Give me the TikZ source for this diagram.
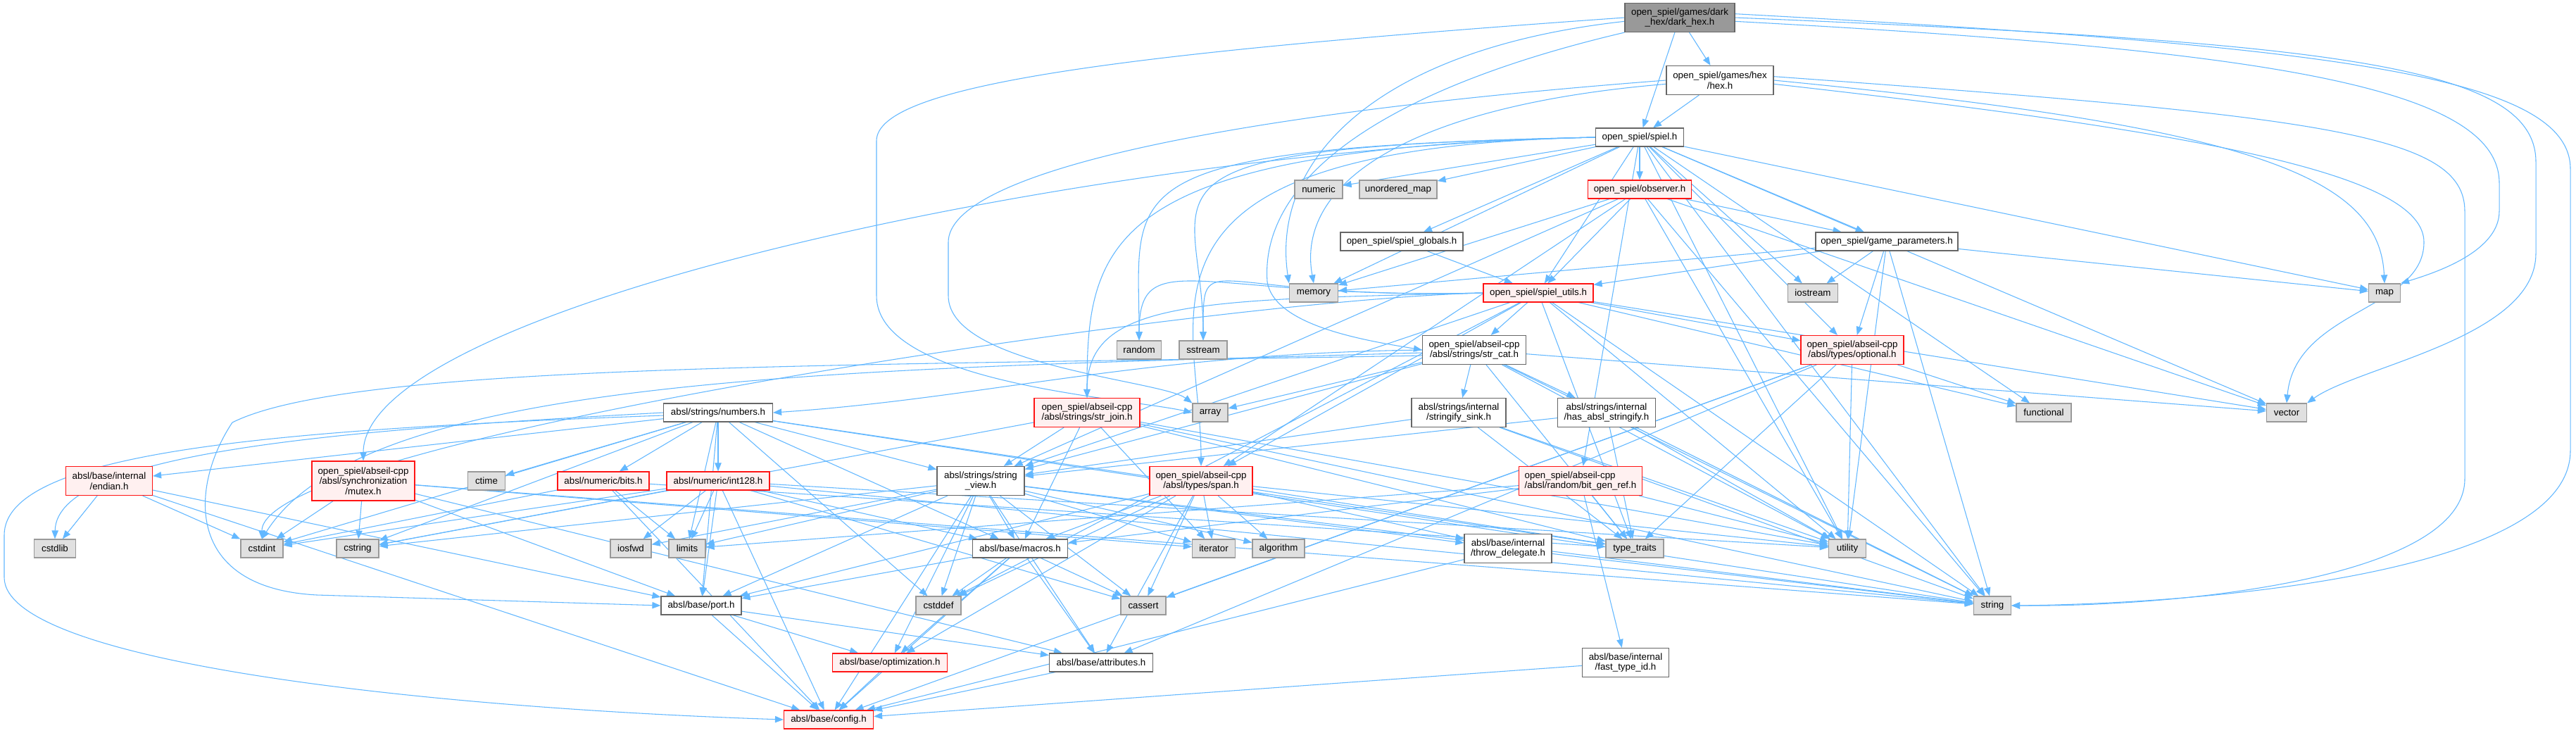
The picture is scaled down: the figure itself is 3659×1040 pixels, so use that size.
\documentclass[tikz,border=0pt]{standalone}
\usepackage{fontspec}
\setmainfont{Liberation Sans}
\usetikzlibrary{arrows.meta,backgrounds}

\definecolor{edgeblue}{RGB}{99,184,255}
\definecolor{sysfill}{RGB}{224,224,224}
\definecolor{sysline}{RGB}{153,153,153}
\definecolor{truncfill}{RGB}{255,240,240}
\definecolor{truncline}{RGB}{255,20,20}
\definecolor{rootfill}{RGB}{153,153,153}
\definecolor{boxline}{RGB}{102,102,102}

\tikzset{
  hdr/.style={draw=boxline,fill=white,line width=0.9pt,align=center,inner sep=1pt,
    font=\fontsize{10}{11}\selectfont,minimum height=19.5pt},
  boxw/.style={minimum width=#1*0.75pt},
  twoline/.style={minimum height=30.75pt},
  threeline/.style={minimum height=42pt},
  rootfile/.style={hdr,fill=rootfill},
  sysfile/.style={hdr,draw=sysline,fill=sysfill},
  trunc/.style={hdr,draw=truncline,fill=truncfill},
  dep/.style={draw=edgeblue,line width=0.8pt,-{Triangle[length=9pt,width=7pt]}}
}

\begin{document}
\begin{tikzpicture}[x=0.75pt,y=-0.75pt]
\useasboundingbox (0,0) rectangle (3659,1040);

% game headers
\node[rootfile,boxw=156,twoline] (dh) at (2386,25) {open\_spiel/games/dark\\\_hex/dark\_hex.h};
\node[hdr,boxw=152,twoline] (hex) at (2443,114) {open\_spiel/games/hex\\/hex.h};
\node[hdr,boxw=125] (spiel) at (2329,195) {open\_spiel/spiel.h};

% open_spiel core
\node[sysfile,boxw=68] (numeric) at (1873,269) {numeric};
\node[sysfile,boxw=110] (umap) at (1986,269) {unordered\_map};
\node[trunc,boxw=147] (observer) at (2329,269) {open\_spiel/observer.h};
\node[hdr,boxw=174] (globals) at (1991,343) {open\_spiel/spiel\_globals.h};
\node[hdr,boxw=202] (gparams) at (2680,343) {open\_spiel/game\_parameters.h};
\node[sysfile,boxw=69] (memory) at (1866,416) {memory};
\node[trunc,boxw=156] (utils) at (2185,416) {open\_spiel/spiel\_utils.h};
\node[sysfile,boxw=71] (iostream) at (2575,416) {iostream};
\node[sysfile,boxw=45] (map) at (3387,416) {map};
\node[sysfile,boxw=63] (random) at (1618,497) {random};
\node[sysfile,boxw=68] (sstream) at (1709,497) {sstream};
\node[hdr,boxw=147,twoline] (strcat) at (2094,497) {open\_spiel/abseil-cpp\\/absl/strings/str\_cat.h};
\node[trunc,boxw=146,twoline] (optional) at (2631,497) {open\_spiel/abseil-cpp\\/absl/types/optional.h};

% abseil strings
\node[hdr,boxw=155] (numbers) at (1020,586) {absl/strings/numbers.h};
\node[trunc,boxw=150,twoline] (strjoin) at (1544,586) {open\_spiel/abseil-cpp\\/absl/strings/str\_join.h};
\node[sysfile,boxw=50] (array) at (1719,586) {array};
\node[hdr,boxw=134,twoline] (sink) at (2072,586) {absl/strings/internal\\/stringify\_sink.h};
\node[hdr,boxw=139,twoline] (hasstr) at (2282,586) {absl/strings/internal\\/has\_absl\_stringify.h};
\node[sysfile,boxw=78] (functional) at (2903,586) {functional};
\node[sysfile,boxw=57] (vector) at (3248,586) {vector};

\node[trunc,boxw=123,twoline] (endian) at (155,683) {absl/base/internal\\/endian.h};
\node[trunc,boxw=146,threeline] (mutex) at (516,683) {open\_spiel/abseil-cpp\\/absl/synchronization\\/mutex.h};
\node[sysfile,boxw=53] (ctime) at (691,683) {ctime};
\node[trunc,boxw=130] (bits) at (857,683) {absl/numeric/bits.h};
\node[trunc,boxw=146] (int128) at (1020,683) {absl/numeric/int128.h};
\node[hdr,boxw=124,twoline] (strview) at (1393,683) {absl/strings/string\\\_view.h};
\node[trunc,boxw=146,twoline] (span) at (1706,683) {open\_spiel/abseil-cpp\\/absl/types/span.h};
\node[trunc,boxw=175,twoline,align=left] (bitgen) at (2245,683) {open\_spiel/abseil-cpp\\/absl/random/bit\_gen\_ref.h};

% std headers and absl/base
\node[sysfile,boxw=59] (cstdlib) at (78,779) {cstdlib};
\node[sysfile,boxw=60] (cstdint) at (372,779) {cstdint};
\node[sysfile,boxw=60] (cstring) at (508,779) {cstring};
\node[sysfile,boxw=58] (iosfwd) at (896,779) {iosfwd};
\node[sysfile,boxw=52] (limits) at (976,779) {limits};
\node[hdr,boxw=135] (macros) at (1449,779) {absl/base/macros.h};
\node[sysfile,boxw=61] (iterator) at (1724,779) {iterator};
\node[sysfile,boxw=74] (algorithm) at (1816,779) {algorithm};
\node[hdr,boxw=124,twoline] (throwdel) at (2142,779) {absl/base/internal\\/throw\_delegate.h};
\node[sysfile,boxw=82] (typetraits) at (2322,779) {type\_traits};
\node[sysfile,boxw=53] (utility) at (2624,779) {utility};

\node[hdr,boxw=114] (port) at (996,860) {absl/base/port.h};
\node[sysfile,boxw=64] (cstddef) at (1333,860) {cstddef};
\node[sysfile,boxw=64] (cassert) at (1624,860) {cassert};
\node[sysfile,boxw=53] (string) at (2830,860) {string};
\node[trunc,boxw=163] (optim) at (1264,941) {absl/base/optimization.h};
\node[hdr,boxw=147] (attrs) at (1564,941) {absl/base/attributes.h};
\node[hdr,boxw=123,twoline] (fasttid) at (2309,941) {absl/base/internal\\/fast\_type\_id.h};
\node[trunc,boxw=127] (config) at (1177,1022) {absl/base/config.h};

\begin{scope}[on background layer]
\fill[white] (0,0) rectangle (3659,1040);
% includes of dark_hex.h and hex.h
\foreach \t in {hex,spiel} \draw[dep] (dh) -- (\t);
\draw[dep] (hex) -- (spiel);
\draw[dep] (dh.west) .. controls (1600,75) and (1245,120) .. (1245,200) -- (1245,420) .. controls (1245,545) and (1600,565) .. (array.west);
\draw[dep] ([yshift=-4pt]dh.west) .. controls (1950,70) and (1805,230) .. (memory.north west);
\draw[dep] (dh.south west) .. controls (1950,130) and (1790,260) .. (1800,400) .. controls (1810,465) and (1950,485) .. (strcat.west);
\draw[dep] ([yshift=4pt]dh.east) .. controls (3300,65) and (3651,105) .. (3651,240) -- (3651,640) .. controls (3651,820) and (3100,858) .. (string.east);
\draw[dep] (dh.east) .. controls (3300,60) and (3602,90) .. (3602,230) -- (3602,360) .. controls (3602,480) and (3350,520) .. (vector.north east);
\draw[dep] ([yshift=-4pt]dh.east) .. controls (3200,70) and (3550,120) .. (3550,260) -- (3550,300) .. controls (3550,360) and (3450,390) .. (map.north east);
\draw[dep] (hex.west) .. controls (1700,165) and (1347,250) .. (1347,344) -- (1347,420) .. controls (1347,520) and (1650,540) .. (array.north west);
\draw[dep] ([yshift=-4pt]hex.west) .. controls (2000,150) and (1840,260) .. (memory.north);
\draw[dep] ([yshift=4pt]hex.east) .. controls (3300,165) and (3501,190) .. (3501,300) -- (3501,680) .. controls (3501,820) and (3100,862) .. (string.east);
\draw[dep] (hex.east) .. controls (3200,180) and (3380,250) .. (map.north);
\draw[dep] ([yshift=-4pt]hex.east) .. controls (3150,190) and (3443,250) .. (3443,344) .. controls (3443,440) and (3260,440) .. (vector.north);
% includes of spiel.h
\foreach \t in {numeric,umap,observer,globals,memory,utils,iostream,gparams,optional,map,vector,string,utility,functional,bitgen}
  \draw[dep] (spiel) -- (\t);
\foreach \t in {random,sstream,strjoin,mutex,span}
  \draw[dep] (spiel.west) .. controls +(-700,15) and +(0,-220) .. (\t.north);
\foreach \t in {memory,utils,gparams,string,vector,utility,span,strview}
  \draw[dep] (observer) -- (\t);
\foreach \t in {map,memory,utils,iostream,optional,string,utility}
  \draw[dep] (gparams) -- (\t);
\draw[dep] (globals) -- (utils);
\foreach \t in {strcat,optional,span,strview,cstddef,functional,vector,string,utility,typetraits}
  \draw[dep] (utils) -- (\t);
\foreach \t in {random,sstream,strjoin,cstdint}
  \draw[dep] (utils.west) .. controls +(-400,10) and +(0,-140) .. (\t.north);
% abseil strings
\foreach \t in {array,sink,hasstr,strview,vector,string,typetraits,utility}
  \draw[dep] (strcat) -- (\t);
\draw[dep] (strcat.west) .. controls +(-400,5) and +(300,-20) .. (numbers.east);
\draw[dep] ([yshift=-6pt]strcat.west) .. controls (1200,520) and (500,515) .. (330,600) .. controls (270,690) and (260,835) .. (450,845) -- (port.west);
\draw[dep] ([yshift=-3pt]strcat.west) .. controls (1200,525) and (520,530) .. (cstdint.north);
\foreach \t in {strview,macros,iterator,cstring,string,typetraits,utility}
  \draw[dep] (strjoin) -- (\t);
\foreach \t in {endian,bits,int128,ctime,cstring,cstdint,limits,strview,macros,port,cstddef,string,typetraits}
  \draw[dep] (numbers) -- (\t);
\draw[dep] (numbers.west) .. controls (500,610) and (80,640) .. (cstdlib.north);
\draw[dep] ([yshift=-3pt]numbers.west) .. controls (400,610) and (6,640) .. (6,760) -- (6,820) .. controls (6,940) and (600,1005) .. (config.west);
\foreach \t in {strview,string,typetraits,utility} {
  \draw[dep] (sink) -- (\t);
  \draw[dep] (hasstr) -- (\t);
}
% lower abseil headers
\foreach \t in {cstdlib,cstdint,port,config}
  \draw[dep] (endian) -- (\t);
\foreach \t in {cstdint,cstring,port,attrs,iterator,string}
  \draw[dep] (mutex) -- (\t);
\foreach \t in {cstdint,limits,typetraits,config}
  \draw[dep] (bits) -- (\t);
\foreach \t in {cassert,cstdint,cstring,iosfwd,limits,string,utility,config,macros,port}
  \draw[dep] (int128) -- (\t);
\foreach \t in {algorithm,cassert,cstddef,cstring,iosfwd,iterator,limits,string,attrs,config,throwdel,macros,optim,port}
  \draw[dep] (strview) -- (\t);
\foreach \t in {algorithm,cassert,cstddef,iterator,typetraits,utility,attrs,throwdel,macros,optim,port}
  \draw[dep] (span) -- (\t);
\foreach \t in {limits,typetraits,utility,fasttid,macros}
  \draw[dep] (bitgen) -- (\t);
\foreach \t in {functional,typetraits,utility,attrs,config,cassert}
  \draw[dep] (optional) -- (\t);
\foreach \t in {cassert,cstddef,attrs,config,optim,port}
  \draw[dep] (macros) -- (\t);
\foreach \t in {attrs,config,optim}
  \draw[dep] (port) -- (\t);
\draw[dep] (optim) -- (config);
\draw[dep] (attrs) -- (config);
\draw[dep] (throwdel) -- (string);
\draw[dep] (throwdel) -- (config);
\draw[dep] (fasttid) -- (config);
\end{scope}
\end{tikzpicture}
\end{document}
